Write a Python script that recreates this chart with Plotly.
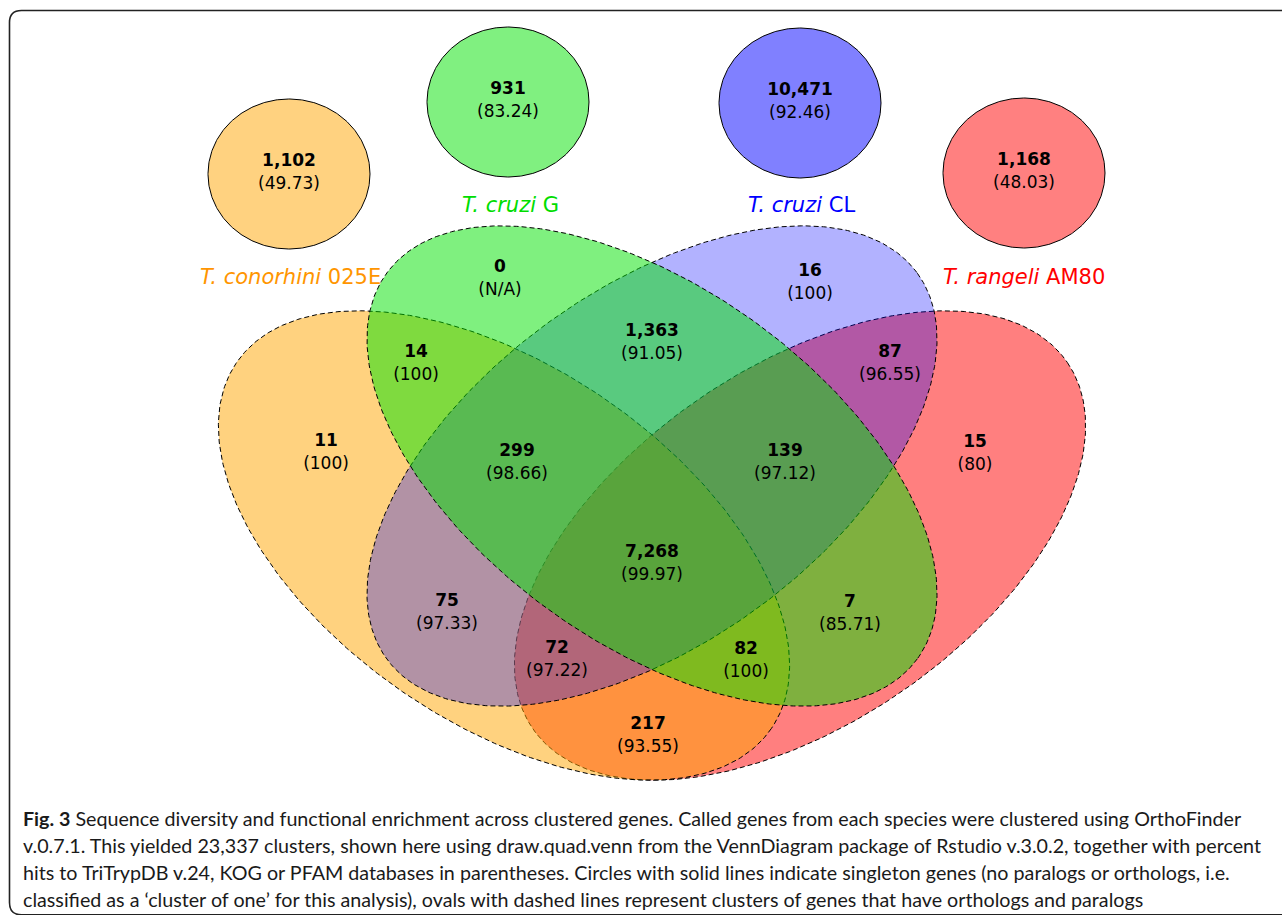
import numpy as np
import plotly.graph_objects as go

# ---------------- data ----------------
set_species = ["T. conorhini", "T. cruzi", "T. cruzi", "T. rangeli"]
set_strains = ["025E", "G", "CL", "AM80"]

# singleton genes ("cluster of one") per species
singleton_counts = [1102, 931, 10471, 1168]
singleton_pct = [49.73, 83.24, 92.46, 48.03]

# Venn regions: C = conorhini, G = cruzi G, L = cruzi CL, R = rangeli
region_keys = ["C", "G", "L", "R", "CG", "GL", "LR", "CGL", "GLR",
               "CGLR", "CL", "GR", "CLR", "CGR", "CR"]
region_counts = [11, 0, 16, 15, 14, 1363, 87, 299, 139,
                 7268, 75, 7, 72, 82, 217]
region_pct = [100, None, 100, 80, 100, 91.05, 96.55, 98.66, 97.12,
              99.97, 97.33, 85.71, 97.22, 100, 93.55]

caption_lines = [
    "<b>Fig. 3</b> Sequence diversity and functional enrichment across clustered genes. Called genes from each species were clustered using OrthoFinder",
    "v.0.7.1. This yielded 23,337 clusters, shown here using draw.quad.venn from the VennDiagram package of Rstudio v.3.0.2, together with percent",
    "hits to TriTrypDB v.24, KOG or PFAM databases in parentheses. Circles with solid lines indicate singleton genes (no paralogs or orthologs, i.e.",
    "classified as a \u2018cluster of one\u2019 for this analysis), ovals with dashed lines represent clusters of genes that have orthologs and paralogs",
]

# ---------------- layout / style ----------------
W, H = 1282, 915
NUM_FONT = "DejaVu Sans"

# label anchor for each Venn region (centre of the count line)
region_pos = {
    "C": (326, 442), "G": (500, 268), "L": (810, 272), "R": (975, 443),
    "CG": (416, 353), "GL": (652, 332), "LR": (890, 353),
    "CGL": (517, 452), "GLR": (785, 452), "CGLR": (652, 553),
    "CL": (447, 602), "GR": (850, 603), "CLR": (557, 649),
    "CGR": (746, 650), "CR": (648, 725),
}

# Venn ellipses (centre, semi-axes, tilt in degrees, fill), drawn in this order
venn_ellipses = [
    dict(key="R", cx=800, cy=545.5, a=324, b=178, ang=-34.4, fill="rgba(255,0,0,0.5)"),
    dict(key="C", cx=504, cy=545.5, a=324, b=178, ang=34.4, fill="rgba(255,165,0,0.5)"),
    dict(key="L", cx=652, cy=466, a=328, b=177, ang=-36.0, fill="rgba(0,0,255,0.3)"),
    dict(key="G", cx=652, cy=466, a=328, b=177, ang=36.0, fill="rgba(0,225,0,0.5)"),
]

# singleton circles
single_centres = [(289, 174), (508, 102), (800, 103), (1024, 173)]
single_r = (81, 75)
single_fills = ["rgb(255,210,128)", "rgb(128,240,128)", "rgb(128,128,255)", "rgb(255,128,128)"]

# species labels
label_pos = [(290, 277), (510, 205), (801, 205), (1024, 277)]
label_colors = ["#ff9500", "#00dd00", "#0000ff", "#ff0000"]


def ellipse_xy(cx, cy, a, b, ang, n=400):
    t = np.linspace(0, 2 * np.pi, n)
    p = np.deg2rad(ang)
    x = cx + a * np.cos(t) * np.cos(p) - b * np.sin(t) * np.sin(p)
    y = cy + a * np.cos(t) * np.sin(p) + b * np.sin(t) * np.cos(p)
    return x, y


def fmt_pct(p):
    return "(N/A)" if p is None else f"({p:g})"


fig = go.Figure()

# Venn ellipses: each fill then its dashed outline, later fills tint earlier outlines
for e in venn_ellipses:
    x, y = ellipse_xy(e["cx"], e["cy"], e["a"], e["b"], e["ang"])
    fig.add_trace(go.Scatter(
        x=x, y=y, mode="lines", fill="toself", fillcolor=e["fill"],
        line=dict(color="black", width=1, dash="5px,3px"),
        hoverinfo="skip", showlegend=False))

# singleton circles
for (cx, cy), fc in zip(single_centres, single_fills):
    x, y = ellipse_xy(cx, cy, single_r[0], single_r[1], 0)
    fig.add_trace(go.Scatter(
        x=x, y=y, mode="lines", fill="toself", fillcolor=fc,
        line=dict(color="black", width=1),
        hoverinfo="skip", showlegend=False))

# region counts and percentages
rx = [region_pos[k][0] for k in region_keys]
ry = [region_pos[k][1] for k in region_keys]
fig.add_trace(go.Scatter(
    x=rx, y=ry, mode="text",
    text=[f"<b>{c:,}</b>" for c in region_counts],
    textfont=dict(family=NUM_FONT, size=17, color="black"),
    hoverinfo="skip", showlegend=False))
fig.add_trace(go.Scatter(
    x=rx, y=[v + 22.5 for v in ry], mode="text",
    text=[fmt_pct(p) for p in region_pct],
    textfont=dict(family=NUM_FONT, size=17, color="black"),
    hoverinfo="skip", showlegend=False))

# singleton counts and percentages
sx = [c[0] for c in single_centres]
sy = [c[1] for c in single_centres]
fig.add_trace(go.Scatter(
    x=sx, y=[v - 12 for v in sy], mode="text",
    text=[f"<b>{c:,}</b>" for c in singleton_counts],
    textfont=dict(family=NUM_FONT, size=17, color="black"),
    hoverinfo="skip", showlegend=False))
fig.add_trace(go.Scatter(
    x=sx, y=[v + 10.5 for v in sy], mode="text",
    text=[fmt_pct(p) for p in singleton_pct],
    textfont=dict(family=NUM_FONT, size=17, color="black"),
    hoverinfo="skip", showlegend=False))

# species labels
for (lx, ly), col, sp, st in zip(label_pos, label_colors, set_species, set_strains):
    fig.add_annotation(
        x=lx, y=ly, xref="x", yref="y", showarrow=False,
        text=f"<i>{sp}</i> {st}", xanchor="center", yanchor="middle",
        font=dict(family=NUM_FONT, size=21, color=col))

# caption
cap_y = [818, 845, 872, 899]
for line, yy in zip(caption_lines, cap_y):
    fig.add_annotation(
        x=21, y=yy, xref="x", yref="y", showarrow=False,
        text=line, xanchor="left", yanchor="middle", align="left",
        font=dict(family="Lato", size=19.7, color="#1a1a1a"))

# rounded frame around the figure panel
fig.add_shape(
    type="path", xref="x", yref="y",
    path="M 1300,10.5 L 21.5,10.5 Q 9.5,10.5 9.5,22.5 L 9.5,902.5 Q 9.5,914.8 21.5,914.8 L 1300,914.8",
    line=dict(color="#222222", width=1.6))

fig.update_layout(
    width=W, height=H,
    margin=dict(l=0, r=0, t=0, b=0),
    paper_bgcolor="white", plot_bgcolor="white",
    xaxis=dict(range=[0, W], visible=False, fixedrange=True),
    yaxis=dict(range=[H, 0], visible=False, fixedrange=True),
    showlegend=False,
)

fig.write_html("out.html")
